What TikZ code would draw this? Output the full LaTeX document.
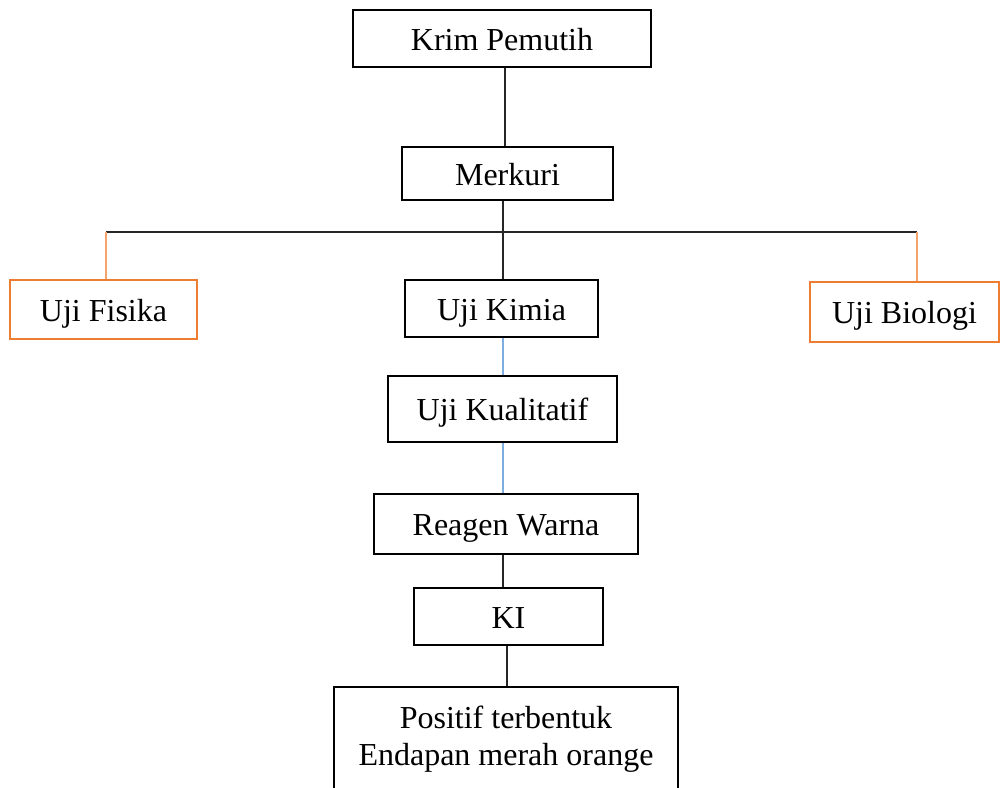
\documentclass[tikz,border=0pt]{standalone}
\usepackage{fontspec}
\setmainfont{Liberation Serif}
\definecolor{boxorange}{HTML}{ED7D31}
\definecolor{lineorange}{HTML}{F4A46A}
\definecolor{lineblue}{HTML}{7DAEE0}
\begin{document}
\begin{tikzpicture}[x=1pt,y=-1pt,
  base/.style={draw=black,line width=2.6pt,inner sep=0pt,align=center,
    font=\fontsize{32}{37}\selectfont},
  box/.style={base,text height=23pt,text depth=0pt},
  obox/.style={box,draw=boxorange},
  conn/.style={line width=1.3pt,draw=black!85},
  bconn/.style={line width=1.5pt,draw=lineblue},
  oconn/.style={line width=1.5pt,draw=lineorange}]
\useasboundingbox (0,0) rectangle (1001,787);
\clip (0,0) rectangle (1001,787);
\node[box,minimum width=298pt,minimum height=57pt] (krim) at (502,38.5) {Krim Pemutih};
\node[box,minimum width=211pt,minimum height=53pt] (merkuri) at (507.5,173.5) {Merkuri};
\node[obox,minimum width=187pt,minimum height=59pt] (fisika) at (103.5,309.5) {Uji Fisika};
\node[obox,minimum width=189pt,minimum height=60pt] (biologi) at (904.5,312) {Uji Biologi};
\node[box,minimum width=193pt,minimum height=57pt] (kimia) at (501.5,308.5) {Uji Kimia};
\node[box,minimum width=229pt,minimum height=66pt] (kual) at (502.5,409) {Uji Kualitatif};
\node[box,minimum width=264pt,minimum height=60pt] (reagen) at (506,524) {Reagen Warna};
\node[box,minimum width=189pt,minimum height=57pt] (ki) at (508.5,616.5) {KI};
\node[base,minimum width=344pt,minimum height=104pt] (pos) at (506,739) {Positif terbentuk\\Endapan merah orange};
\coordinate (busL) at (106,232);
\coordinate (busR) at (917,232);
\draw[conn] ([xshift=3pt]krim.south) -- ([xshift=3pt]krim.south |- merkuri.north);
\draw[conn] ([xshift=1.5pt]kimia.north) -- ([xshift=1.5pt]kimia.north |- merkuri.south);
\draw[conn] (busL) -- (busR);
\draw[oconn] (busL) -- (busL |- fisika.north);
\draw[oconn] (busR) -- (busR |- biologi.north);
\draw[bconn] ([xshift=1.5pt]kimia.south) -- ([xshift=1.5pt]kimia.south |- kual.north);
\draw[bconn] ([xshift=0.5pt]kual.south) -- ([xshift=0.5pt]kual.south |- reagen.north);
\draw[conn] ([xshift=-3pt]reagen.south) -- ([xshift=-3pt]reagen.south |- ki.north);
\draw[conn] ([xshift=-1.5pt]ki.south) -- ([xshift=-1.5pt]ki.south |- pos.north);
\end{tikzpicture}
\end{document}
